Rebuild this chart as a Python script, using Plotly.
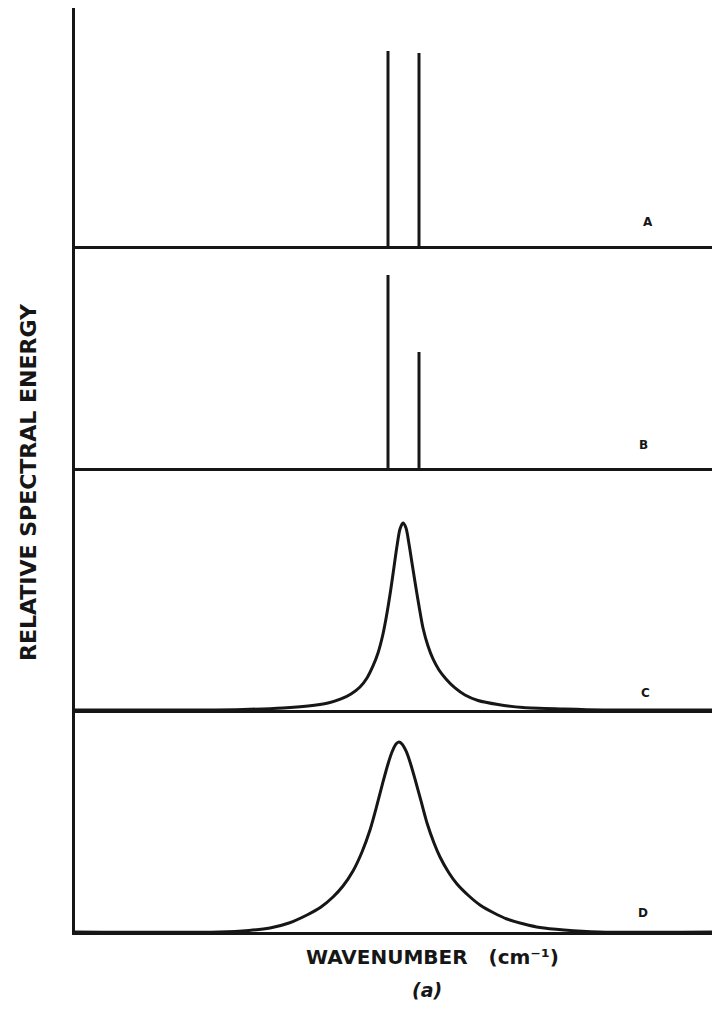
import plotly.graph_objects as go

# ---- data (relative wavenumber units, relative spectral energy units) ----
panel_names = ["A", "B", "C", "D"]
panel_tops = [238, 222, 242, 222]          # y-range top of each panel

# stick spectra
a_x = [313, 344]
a_y = [195, 193]
b_x = [313, 344]
b_y = [193, 116]

# broadened spectrum C (peak near x = 328)
c_x = [0, 128, 168, 208, 233, 253, 266, 276, 285, 292, 298, 303, 308, 312, 316,
       319, 322, 325, 328, 331, 334, 337, 340, 344, 348, 353, 358, 364, 371,
       380, 390, 403, 423, 448, 488, 528, 645]
c_y = [0, 0, 0.5, 2, 4, 7, 11, 16, 23, 32, 44, 57, 76, 97, 122,
       143, 164, 181, 187, 182, 166, 147, 128, 104, 82, 64, 51, 40, 31,
       22, 15, 9.5, 5.5, 2.5, 1, 0, 0]

# broadened spectrum D (peak near x = 324)
d_x = [0, 144, 174, 195, 214, 232, 246, 258, 268, 278, 287, 295, 302, 308,
       313, 317, 321, 324, 327, 331, 335, 340, 346, 352, 359, 365, 374, 382,
       394, 405, 419, 432, 449, 465, 489, 524, 645]
d_y = [0, 0, 1.5, 4, 9, 17, 25, 35, 46, 61, 80, 102, 127, 150,
       168, 180, 188, 190, 188, 181, 170, 153, 131, 109, 89, 75, 59, 48,
       36, 27, 19, 13, 8, 4.5, 2, 0, 0]

label_x = [573, 568, 570, 568]
label_y = [24, 23, 17, 19]

INK = "#161616"

def sticks(xs, ys):
    X, Y = [], []
    for x, y in zip(xs, ys):
        X += [x, x, None]
        Y += [0, y, None]
    return X, Y

fig = go.Figure()

ax, ay = sticks(a_x, a_y)
bx, by = sticks(b_x, b_y)
series = [(ax, ay), (bx, by), (c_x, c_y), (d_x, d_y)]

# domains (bottom panel D first)
bounds = [0.0, 0.2403, 0.5022, 0.7424, 1.0]
domains = {"D": [bounds[0], bounds[1]], "C": [bounds[1], bounds[2]],
           "B": [bounds[2], bounds[3]], "A": [bounds[3], bounds[4]]}

for i, name in enumerate(panel_names):
    k = i + 1
    xs, ys = series[i]
    fig.add_trace(go.Scatter(
        x=xs, y=ys, mode="lines",
        line=dict(color=INK, width=3, shape="spline" if i >= 2 else "linear",
                  smoothing=0.8),
        xaxis=f"x{k}", yaxis=f"y{k}", showlegend=False, hoverinfo="skip"))
    xa = dict(domain=[0, 1], range=[0, 645], anchor=f"y{k}",
              showline=True, linecolor=INK, linewidth=3, showticklabels=False,
              ticks="", showgrid=False, zeroline=False)
    ya = dict(domain=domains[name], range=[0, panel_tops[i]], anchor=f"x{k}",
              showline=True, linecolor=INK, linewidth=3, showticklabels=False,
              ticks="", showgrid=False, zeroline=False)
    fig.update_layout(**{f"xaxis{k}" if k > 1 else "xaxis": xa,
                         f"yaxis{k}" if k > 1 else "yaxis": ya})
    fig.add_annotation(x=label_x[i], y=label_y[i], xref=f"x{k}", yref=f"y{k}",
                       text=name, showarrow=False,
                       xanchor="center", yanchor="middle",
                       font=dict(family="DejaVu Sans", size=12, color=INK,
                                 weight="bold"))

fig.add_annotation(x=-0.0729, y=0.487, xref="paper", yref="paper",
                   text="RELATIVE SPECTRAL ENERGY", textangle=-90,
                   showarrow=False, xanchor="center", yanchor="middle",
                   font=dict(family="DejaVu Sans", size=22, color=INK,
                             weight="bold"))
fig.add_annotation(x=0.555, y=-0.0271, xref="paper", yref="paper",
                   text="WAVENUMBER   (cm\u207b\u00b9)",
                   showarrow=False, xanchor="center", yanchor="middle",
                   font=dict(family="DejaVu Sans", size=20, color=INK,
                             weight="bold"))
fig.add_annotation(x=0.5457, y=-0.0628, xref="paper", yref="paper",
                   text="(a)", showarrow=False,
                   xanchor="center", yanchor="middle",
                   font=dict(family="DejaVu Sans", size=19, color=INK,
                             weight="bold", style="italic"))

fig.update_layout(width=712, height=1013,
                  margin=dict(l=67, r=0, t=0, b=89),
                  paper_bgcolor="white", plot_bgcolor="white")

fig.write_html("out.html")
